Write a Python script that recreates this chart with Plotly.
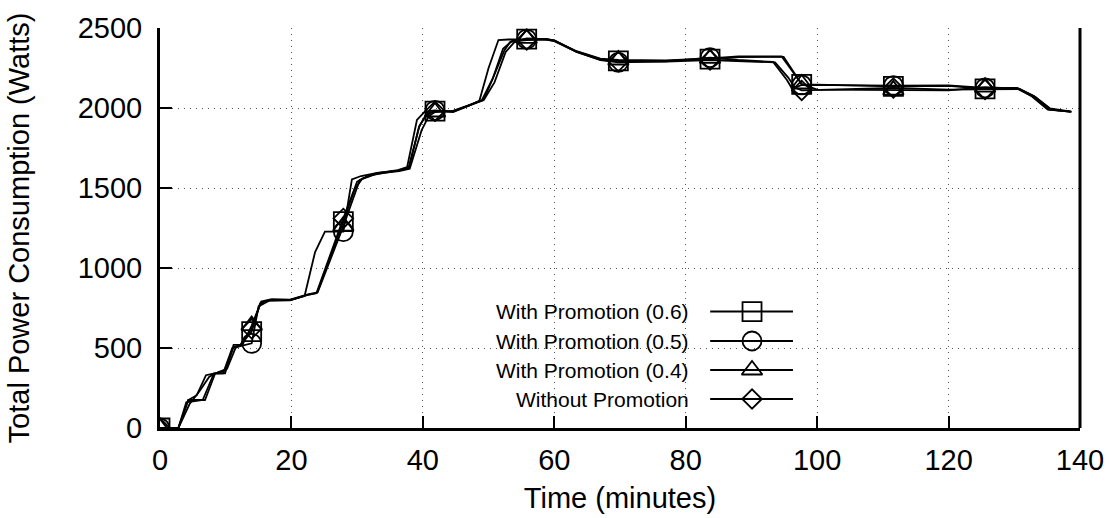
import numpy as np
import plotly.graph_objects as go

# ---------------- data ----------------
SERIES_NAMES = ["With Promotion (0.6)", "With Promotion (0.5)",
                "With Promotion (0.4)", "Without Promotion"]
MARKER_TIMES = [0, 13.95, 27.9, 41.85, 55.8, 69.75, 83.7, 97.65, 111.6, 125.55]

t_p06 = [0, 2.8, 4.3, 5.6, 7.0, 8.5, 9.8, 11.2, 12.3, 13.95, 15.2, 16.8, 19.8, 22.3, 23.9,
         27.9, 29.6, 30.8, 32.2, 36.3, 37.9, 39.4, 40.5, 41.85, 44.6, 47.2, 49.2, 50.6,
         52.2, 53.6, 55.8, 58.8, 60.0, 63.4, 67.0, 69.75, 77.0, 83.7, 88.0, 94.9, 96.8,
         97.65, 100.0, 111.6, 120.0, 125.55, 130.6, 133.0, 135.4, 138.7]
v_p06 = [0, 0, 175, 205, 330, 345, 355, 505, 520, 602, 775, 800, 800, 830, 845,
         1290, 1490, 1560, 1580, 1610, 1625, 1880, 1960, 1980, 1978, 2018, 2048, 2180,
         2370, 2420, 2430, 2428, 2420, 2352, 2305, 2295, 2295, 2305, 2318, 2320, 2200,
         2148, 2146, 2135, 2138, 2120, 2122, 2075, 1998, 1978]

t_p05 = [0, 2.8, 4.0, 6.5, 8.2, 9.6, 11.0, 12.4, 13.95, 15.0, 16.6, 19.8, 22.0, 23.6, 25.1,
         27.9, 29.2, 30.6, 32.5, 36.2, 37.6, 39.1, 40.3, 41.85, 44.6, 47.0, 48.6, 50.0,
         51.5, 53.0, 55.8, 58.8, 60.0, 63.4, 67.0, 69.75, 77.0, 83.7, 88.0, 93.3, 95.4,
         96.2, 97.65, 100.0, 111.6, 120.0, 125.55, 130.4, 132.7, 135.1, 138.5]
v_p05 = [0, 0, 160, 175, 340, 342, 500, 515, 529, 760, 795, 800, 825, 1100, 1227,
         1227, 1554, 1575, 1590, 1612, 1630, 1925, 1977, 1985, 1975, 2015, 2045, 2250,
         2425, 2428, 2430, 2428, 2418, 2350, 2300, 2285, 2292, 2315, 2300, 2288, 2175,
         2120, 2145, 2144, 2140, 2142, 2125, 2125, 2072, 1990, 1977]

t_p04 = [0, 2.8, 4.5, 6.0, 7.5, 8.9, 10.2, 11.5, 12.6, 13.95, 15.4, 17.0, 19.8, 22.5, 24.0,
         27.9, 30.4, 31.7, 33.0, 36.4, 38.0, 39.8, 40.9, 41.85, 44.6, 47.3, 49.3, 50.9,
         52.6, 53.9, 55.8, 58.8, 60.0, 63.4, 67.0, 69.75, 77.0, 83.7, 88.0, 94.6, 96.6,
         97.65, 100.0, 111.6, 120.0, 125.55, 130.8, 133.2, 135.6, 138.7]
v_p04 = [0, 0, 150, 230, 320, 350, 370, 500, 525, 640, 790, 805, 802, 835, 848,
         1262, 1550, 1572, 1590, 1605, 1620, 1860, 1950, 1975, 1980, 2022, 2052, 2160,
         2350, 2410, 2435, 2430, 2422, 2355, 2308, 2300, 2298, 2310, 2322, 2322, 2210,
         2150, 2115, 2112, 2110, 2130, 2120, 2068, 1990, 1976]

t_none = [0, 2.8, 4.3, 6.85, 8.4, 9.9, 11.2, 12.2, 13.95, 15.3, 16.7, 19.8, 22.3, 23.8,
          27.9, 30.0, 31.4, 33.0, 36.3, 37.8, 39.5, 40.7, 41.85, 44.6, 47.2, 49.0, 50.7,
          52.4, 53.3, 55.8, 58.8, 60.0, 63.4, 67.0, 69.75, 77.0, 83.7, 88.0, 93.6, 95.6,
          96.6, 97.65, 100.0, 111.6, 120.0, 125.55, 130.6, 132.9, 135.2, 138.6]
v_none = [0, 0, 175, 175, 342, 342, 519, 519, 620, 782, 800, 798, 831, 842,
          1310, 1540, 1570, 1595, 1608, 1623, 1890, 1965, 1980, 1982, 2020, 2050, 2190,
          2360, 2414, 2425, 2430, 2422, 2350, 2302, 2290, 2290, 2300, 2292, 2285, 2190,
          2130, 2110, 2112, 2125, 2115, 2115, 2118, 2070, 1992, 1977]

X_TICKS = [0, 20, 40, 60, 80, 100, 120, 140]
Y_TICKS = [0, 500, 1000, 1500, 2000, 2500]

# ---------------- styling ----------------
FONT = "Liberation Sans, Arial, Helvetica, sans-serif"
SYMBOLS = ["square-open", "circle-open", "triangle-up-open", "diamond-open"]
SIZES = [19, 19, 18, 15]

series = [(t_p06, v_p06), (t_p05, v_p05), (t_p04, v_p04), (t_none, v_none)]

fig = go.Figure()
for (t, v), sym, sz in zip(series, SYMBOLS, SIZES):
    assert len(t) == len(v)
    t = np.array(t, float)
    v = np.array(v, float)
    fig.add_trace(go.Scatter(x=t, y=v, mode="lines", showlegend=False,
                             line=dict(color="black", width=1.8)))
    mask = np.array([np.any(np.isclose(x, MARKER_TIMES)) for x in t])
    fig.add_trace(go.Scatter(x=t[mask], y=v[mask], mode="markers", showlegend=False,
                             marker=dict(symbol=sym, size=sz, color="black",
                                         line=dict(color="black", width=1.8))))

# ---------------- custom legend (text left, sample right) ----------------
leg_rows = [0.291, 0.2175, 0.145, 0.0725]
for name, sym, sz, yr in zip(SERIES_NAMES, SYMBOLS, SIZES, leg_rows):
    fig.add_trace(go.Scatter(x=[0.598, 0.6435, 0.688], y=[yr, yr, yr],
                             xaxis="x2", yaxis="y2", mode="lines", showlegend=False,
                             line=dict(color="black", width=2), hoverinfo="skip"))
    fig.add_trace(go.Scatter(x=[0.6435], y=[yr], xaxis="x2", yaxis="y2",
                             mode="markers", showlegend=False, hoverinfo="skip",
                             marker=dict(symbol=sym, size=sz, color="black",
                                         line=dict(color="black", width=1.8))))
    fig.add_annotation(x=0.577, y=yr, xref="x2", yref="y2", text=name,
                       showarrow=False, xanchor="right", yanchor="middle",
                       font=dict(family=FONT, size=21, color="black"))

axis_common = dict(showline=True, linecolor="black", linewidth=3, ticks="inside",
                   ticklen=12, tickwidth=2, tickcolor="black", zeroline=False,
                   showgrid=True, gridcolor="#555555", gridwidth=1, griddash="1px,5px",
                   tickfont=dict(family=FONT, size=29, color="black"), mirror=False,
                   automargin=False)

fig.update_layout(
    width=1114, height=518,
    margin=dict(l=160, r=34, t=28, b=90),
    paper_bgcolor="white", plot_bgcolor="white",
    showlegend=False,
    xaxis=dict(range=[0, 140], tickvals=X_TICKS, ticklabelstandoff=4, **axis_common,
               title=dict(text="Time (minutes)", font=dict(family=FONT, size=29, color="black"),
                          standoff=13)),
    yaxis=dict(range=[0, 2500], tickvals=Y_TICKS, ticklabelstandoff=9, **axis_common,
               title=dict(text="Total Power Consumption (Watts)",
                          font=dict(family=FONT, size=29, color="black"), standoff=40)),
    xaxis2=dict(overlaying="x", range=[0, 1], visible=False, fixedrange=True),
    yaxis2=dict(overlaying="y", range=[0, 1], visible=False, fixedrange=True),
)
# right border line
fig.add_shape(type="line", xref="x domain", yref="y domain", x0=1, x1=1, y0=0, y1=1,
              line=dict(color="black", width=3))

fig.write_html("out.html", config={"displayModeBar": False},
               post_script="document.body.style.margin='0';document.body.style.overflow='hidden';")
